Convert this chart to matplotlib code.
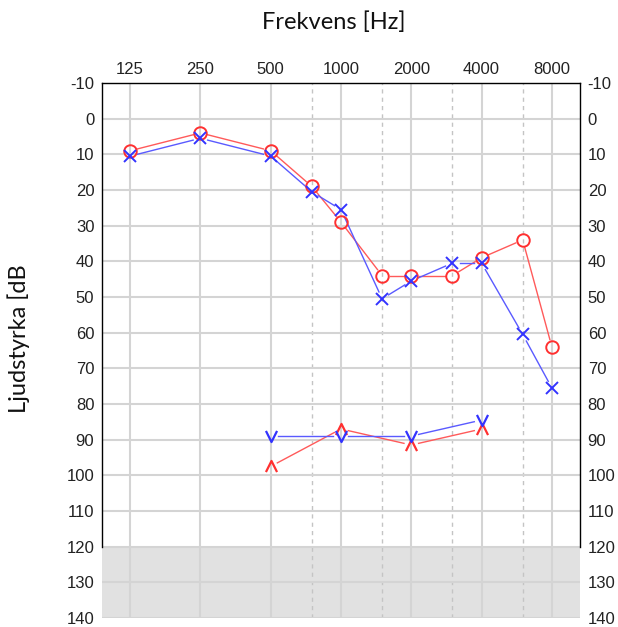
import matplotlib
matplotlib.use('Agg')
import matplotlib.pyplot as plt
import numpy as np
from matplotlib.path import Path
from matplotlib.ticker import FixedLocator, NullFormatter

# air conduction, all frequencies
freqs = [125, 250, 500, 750, 1000, 1500, 2000, 3000, 4000, 6000, 8000]
right_ac = [9, 4, 9, 19, 29, 44, 44, 44, 39, 34, 64]
left_ac = [10.5, 5.5, 10.5, 20.5, 25.5, 50.5, 45.5, 40.5, 40.5, 60.5, 75.5]

# bone conduction
bc_freqs = [500, 1000, 2000, 4000]
right_bc = [97.5, 87, 91.5, 87]
left_bc = [89, 89, 89, 84.5]

octave_ticks = [125, 250, 500, 1000, 2000, 4000, 8000]
half_ticks = [750, 1500, 3000, 6000]
db_ticks = list(range(-10, 141, 10))

RED = '#ff3030'
BLUE = '#3333ff'
RED_LINE = '#ff5a5a'
BLUE_LINE = '#5a5aff'

V_MARK = Path([(-1, 1), (0, -1), (1, 1)], [Path.MOVETO, Path.LINETO, Path.LINETO])
A_MARK = Path([(-1, -1), (0, 1), (1, -1)], [Path.MOVETO, Path.LINETO, Path.LINETO])

plt.rcParams['font.family'] = ['Liberation Sans', 'DejaVu Sans']
plt.rcParams['xtick.labelsize'] = 12
plt.rcParams['ytick.labelsize'] = 12
plt.rcParams['xtick.color'] = '#222222'
plt.rcParams['ytick.color'] = '#222222'

W, H = 618, 627
fig = plt.figure(figsize=(W / 100, H / 100), dpi=100)
ax = fig.add_axes([102 / W, 1 - 618 / H, 478 / W, 535 / H])

ax.set_xscale('log', base=2)
ax.set_xlim(125 / 2 ** 0.4, 8000 * 2 ** 0.4)
ax.set_ylim(140, -10)

ax.xaxis.set_major_locator(FixedLocator(octave_ticks))
ax.xaxis.set_major_formatter(plt.FixedFormatter([str(f) for f in octave_ticks]))
ax.xaxis.set_minor_locator(FixedLocator(half_ticks))
ax.xaxis.set_minor_formatter(NullFormatter())
ax.set_yticks(db_ticks)
ax.set_yticklabels([str(d) for d in db_ticks])

ax.tick_params(axis='x', which='both', length=0, top=True, bottom=False,
               labeltop=True, labelbottom=False, pad=4)
ax.tick_params(axis='y', length=0, left=False, right=False,
               labelleft=True, labelright=True, pad=5.5)

# gray area below 120 dB
ax.axhspan(120, 140, color='#e1e1e1', zorder=0, lw=0)

ax.grid(which='major', axis='both', color='#d4d4d4', lw=1.5, zorder=1)
ax.grid(which='minor', axis='x', color='#c4c4c4', lw=1.0, ls=(0, (3, 3)), zorder=1)
ax.set_axisbelow(True)

for side in ['left', 'right']:
    ax.spines[side].set_bounds(-10, 120)
    ax.spines[side].set_linewidth(1.0)
ax.spines['top'].set_linewidth(1.0)
ax.spines['bottom'].set_visible(False)


def gap_line(xs, ys, color, gap=7.5):
    # connect points but stop short of the markers
    pts = ax.transData.transform(np.column_stack([xs, ys]))
    inv = ax.transData.inverted()
    for p0, p1 in zip(pts[:-1], pts[1:]):
        d = p1 - p0
        n = np.hypot(d[0], d[1])
        if n <= 2 * gap:
            continue
        u = d / n
        seg = inv.transform(np.array([p0 + u * gap, p1 - u * gap]))
        ax.plot(seg[:, 0], seg[:, 1], color=color, lw=1.0, zorder=3)


gap_line(freqs, right_ac, RED_LINE)
gap_line(freqs, left_ac, BLUE_LINE)
gap_line(bc_freqs, right_bc, RED_LINE)
gap_line(bc_freqs, left_bc, BLUE_LINE)

ax.plot(freqs, right_ac, ls='none', marker='o', ms=9, mfc='none', mec=RED, mew=1.4, zorder=4)
ax.plot(freqs, left_ac, ls='none', marker='x', ms=9, mec=BLUE, mew=1.4, zorder=4)
ax.plot(bc_freqs, right_bc, ls='none', marker=A_MARK, ms=8, mfc='none', mec=RED, mew=1.6, zorder=4)
ax.plot(bc_freqs, left_bc, ls='none', marker=V_MARK, ms=8, mfc='none', mec=BLUE, mew=1.6, zorder=4)

fig.text(334 / W, 1 - 22 / H, 'Frekvens [Hz]', fontfamily='Lato', fontsize=17,
         ha='center', va='center', color='#111111')
fig.text(19 / W, 1 - 339 / H, 'Ljudstyrka [dB', fontfamily='Lato', fontsize=17,
         rotation=90, ha='center', va='center', color='#111111')

fig.savefig('out.png', dpi=100)
